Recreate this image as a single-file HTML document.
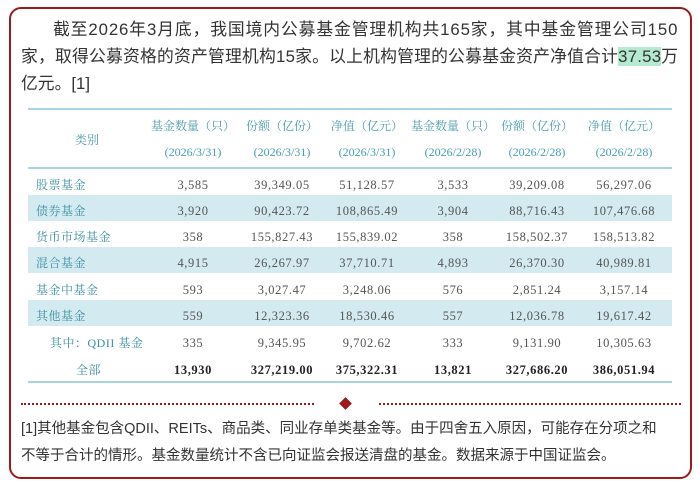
<!DOCTYPE html><html><head><meta charset="utf-8"><style>
body{margin:0;width:700px;height:483px;background:#fff;position:relative;overflow:hidden;font-family:"Liberation Sans","Noto Sans CJK SC",sans-serif}
.box{position:absolute;left:9px;top:7px;width:679px;height:468px;border:2px solid #9b1b1b;border-radius:12px}
.p{position:absolute;left:21px;font-size:16.8px;color:#333;line-height:27px;white-space:nowrap}
.t{position:absolute;font-family:"Liberation Serif","Noto Serif CJK SC",serif;font-size:12px;white-space:nowrap}
.h{color:#4a9cb0;transform:translateX(-50%)}
.n{color:#555;transform:translateX(-50%);font-size:12.5px;letter-spacing:0.6px}
.l{color:#3a8fa0;left:36px;letter-spacing:0.5px}
.sh{position:absolute;left:28px;width:644px;height:26px;background:#d3eaf1}
.ln{position:absolute;left:28px;width:644px;height:2px;background:#a9d4e3}
.f{position:absolute;left:21px;font-size:14.5px;color:#333;white-space:nowrap}
</style></head><body>
<div class="box"></div>
<div class="p" style="top:16px;left:53px;letter-spacing:0.9px">截至2026年3月底，我国境内公募基金管理机构共165家，其中基金管理公司150</div>
<div class="p" style="top:43px;letter-spacing:0.22px">家，取得公募资格的资产管理机构15家。以上机构管理的公募基金资产净值合计<span style="background:#b5ead0">37.53</span>万</div>
<div class="p" style="top:70px">亿元。[1]</div>
<div class="ln" style="top:108px"></div>
<div class="ln" style="top:167px"></div>
<div class="ln" style="top:381px"></div>
<div class="sh" style="top:195px"></div>
<div class="sh" style="top:247px"></div>
<div class="sh" style="top:300px"></div>
<div id="tb"></div>
<div style="position:absolute;left:21px;top:403px;width:293px;border-top:2px dotted #9b1b1b"></div>
<div style="position:absolute;left:379px;top:403px;width:302px;border-top:2px dotted #9b1b1b"></div>
<div style="position:absolute;left:341px;top:399px;width:9px;height:9px;background:#9b1b1b;transform:rotate(45deg)"></div>
<div class="f" style="top:417px">[1]其他基金包含QDII、REITs、商品类、同业存单类基金等。由于四舍五入原因，可能存在分项之和</div>
<div class="f" style="top:444px">不等于合计的情形。基金数量统计不含已向证监会报送清盘的基金。数据来源于中国证监会。</div>
<script>
var cx=[193,282,367,453,537,624];
var h1=["基金数量（只）","份额（亿份）","净值（亿元）","基金数量（只）","份额（亿份）","净值（亿元）"];
var h2=["(2026/3/31)","(2026/3/31)","(2026/3/31)","(2026/2/28)","(2026/2/28)","(2026/2/28)"];
var rows=[["股票基金","3,585","39,349.05","51,128.57","3,533","39,209.08","56,297.06"],
["债券基金","3,920","90,423.72","108,865.49","3,904","88,716.43","107,476.68"],
["货币市场基金","358","155,827.43","155,839.02","358","158,502.37","158,513.82"],
["混合基金","4,915","26,267.97","37,710.71","4,893","26,370.30","40,989.81"],
["基金中基金","593","3,027.47","3,248.06","576","2,851.24","3,157.14"],
["其他基金","559","12,323.36","18,530.46","557","12,036.78","19,617.42"],
["其中：QDII 基金","335","9,345.95","9,702.62","333","9,131.90","10,305.63"],
["全部","13,930","327,219.00","375,322.31","13,821","327,686.20","386,051.94"]];
var s="";
s+='<div class="t h" style="left:87px;top:131px">类别</div>';
for(var i=0;i<6;i++){s+='<div class="t h" style="left:'+cx[i]+'px;top:117px">'+h1[i]+'</div><div class="t h" style="left:'+cx[i]+'px;top:145px">'+h2[i]+'</div>';}
var ys=[176,202,228,254,281,307,334,361];
rows.forEach(function(r,j){
 var lbl=j==6?'left:50px':(j==7?'left:76px':'');
 s+='<div class="t l" style="top:'+ys[j]+'px;'+lbl+'">'+r[0]+'</div>';
 for(var i=0;i<6;i++)s+='<div class="t n" style="left:'+cx[i]+'px;top:'+(ys[j]+2)+'px;'+(j==7?'font-weight:bold;color:#222':'')+'">'+r[i+1]+'</div>';
});
document.getElementById('tb').innerHTML=s;
</script>
</body></html>
